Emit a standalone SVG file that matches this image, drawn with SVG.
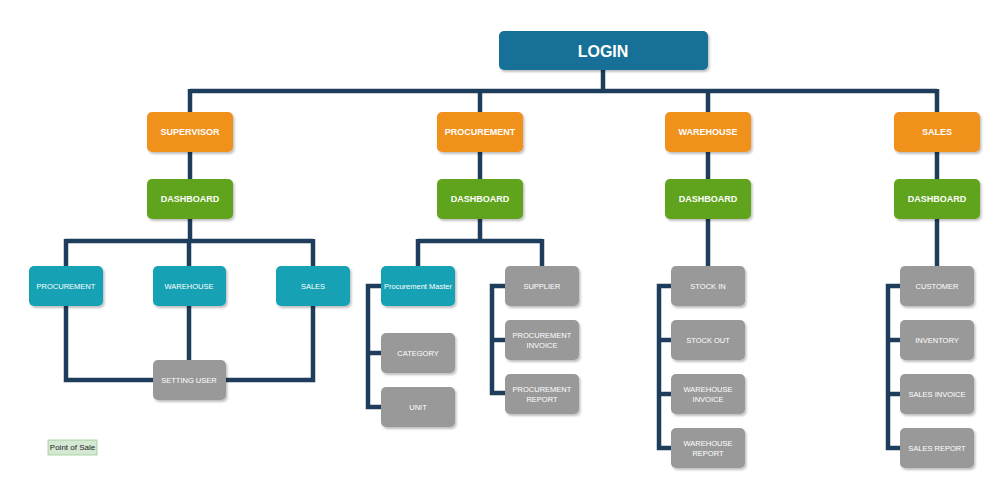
<svg xmlns="http://www.w3.org/2000/svg" width="1000" height="500" viewBox="0 0 1000 500">
<defs>
<filter id="sh" x="-10%" y="-10%" width="130%" height="140%">
<feDropShadow dx="1.5" dy="2" stdDeviation="1.2" flood-color="#000" flood-opacity="0.25"/>
</filter>
<style>
.n{filter:url(#sh)}
.login{fill:#196f98}
.org{fill:#f0911f}
.grn{fill:#5ea41d}
.teal{fill:#16a2b4}
.gry{fill:#999999}
.t{font-family:"Liberation Sans",Arial,sans-serif;fill:#fff;text-anchor:middle;dominant-baseline:central}
.b{font-weight:bold;font-size:9px}
.s{font-size:7.5px}
.c{fill:none;stroke:#1e3d5c;stroke-width:4.5}
</style>
</defs>
<rect width="1000" height="500" fill="#fff"/>
<g id="connectors">
<path class="c" d="M603 70V91M190 91H937M190 89V112M480 89V112M708 89V112M937 89V112"/>
<path class="c" d="M190 152V179M480 152V179M708 152V179M937 152V179"/>
<path class="c" d="M190 219V241M65 241H313M66 239V266M189 239V266M313 239V266"/>
<path class="c" d="M66 306V380H153M189 306V360M313 306V380H226"/>
<path class="c" d="M480 219V241M418 241H542M418 239V266M542 239V266"/>
<path class="c" d="M381 286H368V407H381M366 353H381"/>
<path class="c" d="M505 286H492V393H505M490 340H505"/>
<path class="c" d="M708 219V266"/>
<path class="c" d="M671 286H659V448H671M657 340H671M657 394H671"/>
<path class="c" d="M937 219V266"/>
<path class="c" d="M900 286H888V448H900M886 340H900M886 394H900"/>
</g>
<g id="login"><rect class="n login" x="499" y="31" width="209" height="39" rx="5"/><text class="t" x="603" y="51" font-size="16" font-weight="bold">LOGIN</text></g>
<g id="supervisor"><rect class="n org" x="147" y="112" width="86" height="40" rx="5"/><text class="t b" x="190" y="132">SUPERVISOR</text></g>
<g id="procurement"><rect class="n org" x="437" y="112" width="86" height="40" rx="5"/><text class="t b" x="480" y="132">PROCUREMENT</text></g>
<g id="warehouse"><rect class="n org" x="665" y="112" width="86" height="40" rx="5"/><text class="t b" x="708" y="132">WAREHOUSE</text></g>
<g id="sales"><rect class="n org" x="894" y="112" width="86" height="40" rx="5"/><text class="t b" x="937" y="132">SALES</text></g>
<g id="dash1"><rect class="n grn" x="147" y="179" width="86" height="40" rx="5"/><text class="t b" x="190" y="199">DASHBOARD</text></g>
<g id="dash2"><rect class="n grn" x="437" y="179" width="86" height="40" rx="5"/><text class="t b" x="480" y="199">DASHBOARD</text></g>
<g id="dash3"><rect class="n grn" x="665" y="179" width="86" height="40" rx="5"/><text class="t b" x="708" y="199">DASHBOARD</text></g>
<g id="dash4"><rect class="n grn" x="894" y="179" width="86" height="40" rx="5"/><text class="t b" x="937" y="199">DASHBOARD</text></g>
<g id="sup-procurement"><rect class="n teal" x="29" y="266" width="74" height="40" rx="5"/><text class="t s" x="66" y="286">PROCUREMENT</text></g>
<g id="sup-warehouse"><rect class="n teal" x="153" y="266" width="73" height="40" rx="5"/><text class="t s" x="189" y="286">WAREHOUSE</text></g>
<g id="sup-sales"><rect class="n teal" x="276" y="266" width="74" height="40" rx="5"/><text class="t s" x="313" y="286">SALES</text></g>
<g id="setting-user"><rect class="n gry" x="153" y="360" width="73" height="40" rx="5"/><text class="t s" x="189" y="380">SETTING USER</text></g>
<g id="procurement-master"><rect class="n teal" x="381" y="266" width="74" height="40" rx="5"/><text class="t s" x="418" y="286">Procurement Master</text></g>
<g id="category"><rect class="n gry" x="381" y="333" width="74" height="40" rx="5"/><text class="t s" x="418" y="353">CATEGORY</text></g>
<g id="unit"><rect class="n gry" x="381" y="387" width="74" height="40" rx="5"/><text class="t s" x="418" y="407">UNIT</text></g>
<g id="supplier"><rect class="n gry" x="505" y="266" width="74" height="40" rx="5"/><text class="t s" x="542" y="286">SUPPLIER</text></g>
<g id="procurement-invoice"><rect class="n gry" x="505" y="320" width="74" height="40" rx="5"/><text class="t s" x="542" y="335">PROCUREMENT</text><text class="t s" x="542" y="345">INVOICE</text></g>
<g id="procurement-report"><rect class="n gry" x="505" y="374" width="74" height="40" rx="5"/><text class="t s" x="542" y="389">PROCUREMENT</text><text class="t s" x="542" y="399">REPORT</text></g>
<g id="stock-in"><rect class="n gry" x="671" y="266" width="74" height="40" rx="5"/><text class="t s" x="708" y="286">STOCK IN</text></g>
<g id="stock-out"><rect class="n gry" x="671" y="320" width="74" height="40" rx="5"/><text class="t s" x="708" y="340">STOCK OUT</text></g>
<g id="warehouse-invoice"><rect class="n gry" x="671" y="374" width="74" height="40" rx="5"/><text class="t s" x="708" y="389">WAREHOUSE</text><text class="t s" x="708" y="399">INVOICE</text></g>
<g id="warehouse-report"><rect class="n gry" x="671" y="428" width="74" height="40" rx="5"/><text class="t s" x="708" y="443">WAREHOUSE</text><text class="t s" x="708" y="453">REPORT</text></g>
<g id="customer"><rect class="n gry" x="900" y="266" width="74" height="40" rx="5"/><text class="t s" x="937" y="286">CUSTOMER</text></g>
<g id="inventory"><rect class="n gry" x="900" y="320" width="74" height="40" rx="5"/><text class="t s" x="937" y="340">INVENTORY</text></g>
<g id="sales-invoice"><rect class="n gry" x="900" y="374" width="74" height="40" rx="5"/><text class="t s" x="937" y="394">SALES INVOICE</text></g>
<g id="sales-report"><rect class="n gry" x="900" y="428" width="74" height="40" rx="5"/><text class="t s" x="937" y="448">SALES REPORT</text></g>
<g id="point-of-sale"><rect x="48" y="440" width="49" height="15" fill="#d5e8d4" stroke="#9fcb91" stroke-width="0.8"/><text x="72.5" y="447.5" font-family="'Liberation Sans',Arial,sans-serif" font-size="8" fill="#222" text-anchor="middle" dominant-baseline="central">Point of Sale</text></g>
</svg>
